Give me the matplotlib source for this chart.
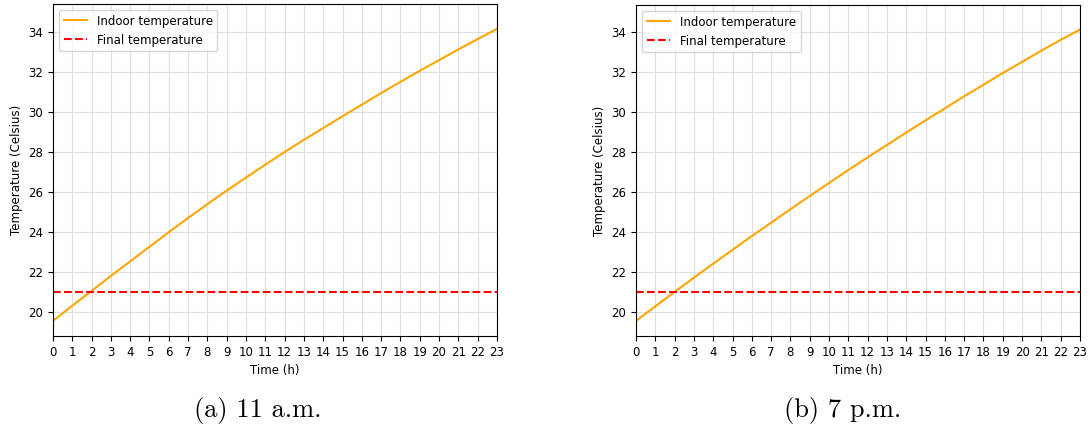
import matplotlib.pyplot as plt
import numpy as np

hours = np.arange(0, 25)
# indoor temperature, case (a) 11 a.m. and case (b) 7 p.m.
temp_11am = [19.55, 20.31, 21.05, 21.80, 22.53, 23.26, 23.99, 24.70, 25.39, 26.07,
             26.72, 27.37, 28.00, 28.61, 29.20, 29.79, 30.37, 30.95, 31.51, 32.06,
             32.60, 33.13, 33.65, 34.16, 34.65]
temp_7pm = [19.57, 20.30, 21.02, 21.73, 22.43, 23.12, 23.81, 24.48, 25.15, 25.81,
            26.46, 27.11, 27.74, 28.36, 28.98, 29.59, 30.19, 30.79, 31.37, 31.95,
            32.51, 33.07, 33.61, 34.12, 34.60]
final_temp = 21.0
captions = ["(a) 11 a.m.", "(b) 7 p.m."]

fig = plt.figure(figsize=(10.92, 4.30), dpi=100)
ax1 = fig.add_axes([0.0485, 0.2186, 0.4066, 0.7721])
ax2 = fig.add_axes([0.5824, 0.2186, 0.4066, 0.7698])

for ax, temps in zip([ax1, ax2], [temp_11am, temp_7pm]):
    ax.plot(hours, temps, color='orange', lw=1.5, label='Indoor temperature')
    ax.plot(hours, [final_temp] * len(hours), color='red', ls='--', lw=1.5,
            label='Final temperature')
    ax.set_xlim(0, 23)
    ax.set_xticks(range(0, 24))
    ax.tick_params(labelsize=8.5)
    ax.set_xlabel('Time (h)', fontsize=8.5)
    ax.set_ylabel('Temperature (Celsius)', fontsize=8.5)
    ax.grid(True, color='#d8d8d8', lw=0.8, alpha=0.8)
    ax.legend(loc='upper left', fontsize=8.5)

fig.text(0.236, 0.046, captions[0], family='cmr10', fontsize=19,
         ha='center', va='center')
fig.text(0.772, 0.046, captions[1], family='cmr10', fontsize=19,
         ha='center', va='center')

fig.savefig('out.png', dpi=100)
